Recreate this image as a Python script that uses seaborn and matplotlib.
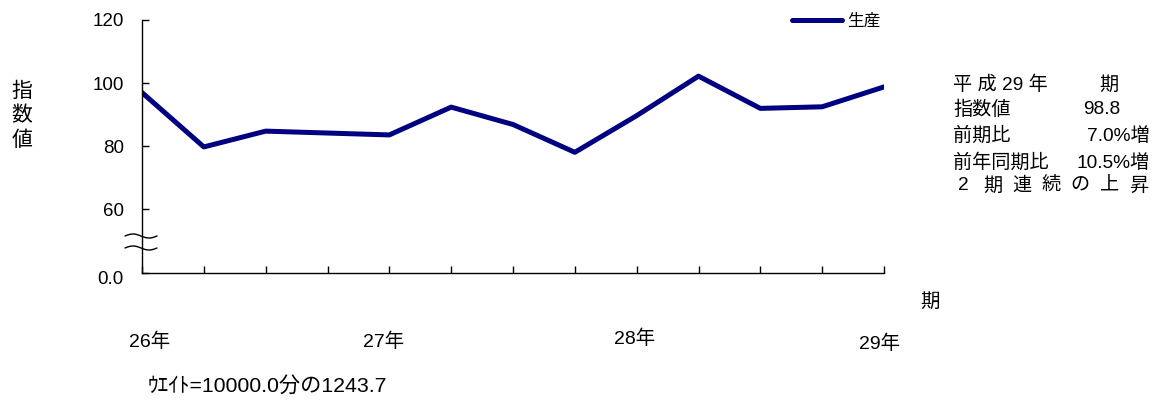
import numpy as np
import pandas as pd
import matplotlib
matplotlib.use("Agg")
import matplotlib.pyplot as plt
import matplotlib.transforms as mtransforms
import seaborn as sns

# ---- data ----
periods = list(range(13))
production = [97.0, 79.8, 84.8, 84.2, 83.6, 92.4, 86.9, 78.1, 89.7, 102.2, 92.0, 92.5, 98.8]
series_name = "生産"
y_ticks = [40, 60, 80, 100, 120]
y_tick_labels = ["0.0", "60", "80", "100", "120"]
year_labels = ["26年", "27年", "28年", "29年"]

# ---- layout constants (pixels in 1161x401 canvas) ----
W, H = 1161, 401
year_label_px = [(150, 342), (384, 342), (635, 339), (880, 344)]

sns.set_style("white")
plt.rcParams['font.family'] = ['Liberation Sans', 'Noto Sans CJK JP']
plt.rcParams['axes.edgecolor'] = 'black'
plt.rcParams['xtick.color'] = 'black'
plt.rcParams['ytick.color'] = 'black'
plt.rcParams['text.color'] = 'black'

def fx(x):
    return x / W

def fy(y):
    return 1 - y / H

fig = plt.figure(figsize=(W / 100, H / 100), dpi=100)
ax_left, ax_right, ax_top, ax_bottom = 142, 884, 19.9, 272.7
ax = fig.add_axes([fx(ax_left), fy(ax_bottom), (ax_right - ax_left) / W, (ax_bottom - ax_top) / H])

df = pd.DataFrame({"period": periods, "value": production, "series": series_name})
sns.lineplot(data=df, x="period", y="value", hue="series", palette=["#000080"],
             linewidth=3.6, ax=ax, solid_joinstyle='round', solid_capstyle='round')

ax.set_xlim(0, 12)
ax.set_ylim(40, 120)
ax.set_xticks(periods)
ax.set_xticklabels([])
ax.set_yticks(y_ticks)
ax.set_yticklabels(y_tick_labels)
ax.set_xlabel("")
ax.set_ylabel("")
for s in ["top", "right"]:
    ax.spines[s].set_visible(False)
for s in ["left", "bottom"]:
    ax.spines[s].set_linewidth(1.0)
    ax.spines[s].set_color("black")
ax.tick_params(axis='y', direction='in', length=5, width=1, pad=13, labelsize=13.5, left=True)
ax.tick_params(axis='x', direction='in', length=5, width=1, labelbottom=False, bottom=True)

# nudge the "0.0" label slightly downward like the reference
first_label = ax.get_yticklabels()[0]
first_label.set_transform(first_label.get_transform() +
                          mtransforms.ScaledTranslation(0, -5 / 100, fig.dpi_scale_trans))

# legend
leg = ax.legend(loc='center left', bbox_to_anchor=(fx(792), fy(21)), bbox_transform=fig.transFigure,
                frameon=False, fontsize=12, handlelength=3.0, handletextpad=0.3,
                borderpad=0, borderaxespad=0)

# axis break marks
axh = ax_bottom - ax_top
axw = ax_right - ax_left
t = np.linspace(0, 1, 50)
for yc in (236, 248):
    xs = (125 + t * 32 - ax_left) / axw
    ys = (ax_bottom - yc) / axh + (2.0 / axh) * np.sin(2 * np.pi * t)
    ax.plot(xs, ys, transform=ax.transAxes, color='black', lw=1.0, clip_on=False)

# y label stacked
fig.text(fx(22), fy(116), "指\n数\n値", ha='center', va='center', fontsize=15, linespacing=1.35)

# year labels
for lab, (px, py) in zip(year_labels, year_label_px):
    fig.text(fx(px), fy(py), lab, ha='center', va='center', fontsize=14)

fig.text(fx(930), fy(302), "期", ha='center', va='center', fontsize=14)
fig.text(fx(148), fy(386), "ｳｴｲﾄ=10000.0分の1243.7", ha='left', va='center', fontsize=15.3)

# right info block
fs = 13.8
fig.text(fx(953), fy(85), "平 成 29 年", ha='left', va='center', fontsize=fs)
fig.text(fx(1109), fy(85), "期", ha='center', va='center', fontsize=fs)
fig.text(fx(953), fy(110), "指数値", ha='left', va='center', fontsize=fs)
fig.text(fx(1120), fy(110), "98.8", ha='right', va='center', fontsize=fs)
fig.text(fx(953), fy(136), "前期比", ha='left', va='center', fontsize=fs)
fig.text(fx(1150), fy(136), "7.0%増", ha='right', va='center', fontsize=fs)
fig.text(fx(953), fy(163), "前年同期比", ha='left', va='center', fontsize=fs)
fig.text(fx(1150), fy(163), "10.5%増", ha='right', va='center', fontsize=fs)
chars = ["2", "期", "連", "続", "の", "上", "昇"]
x0, x1 = 963, 1139
for i, ch in enumerate(chars):
    fig.text(fx(x0 + i * (x1 - x0) / (len(chars) - 1)), fy(186), ch, ha='center', va='center', fontsize=fs)

fig.savefig("out.png", dpi=100)
